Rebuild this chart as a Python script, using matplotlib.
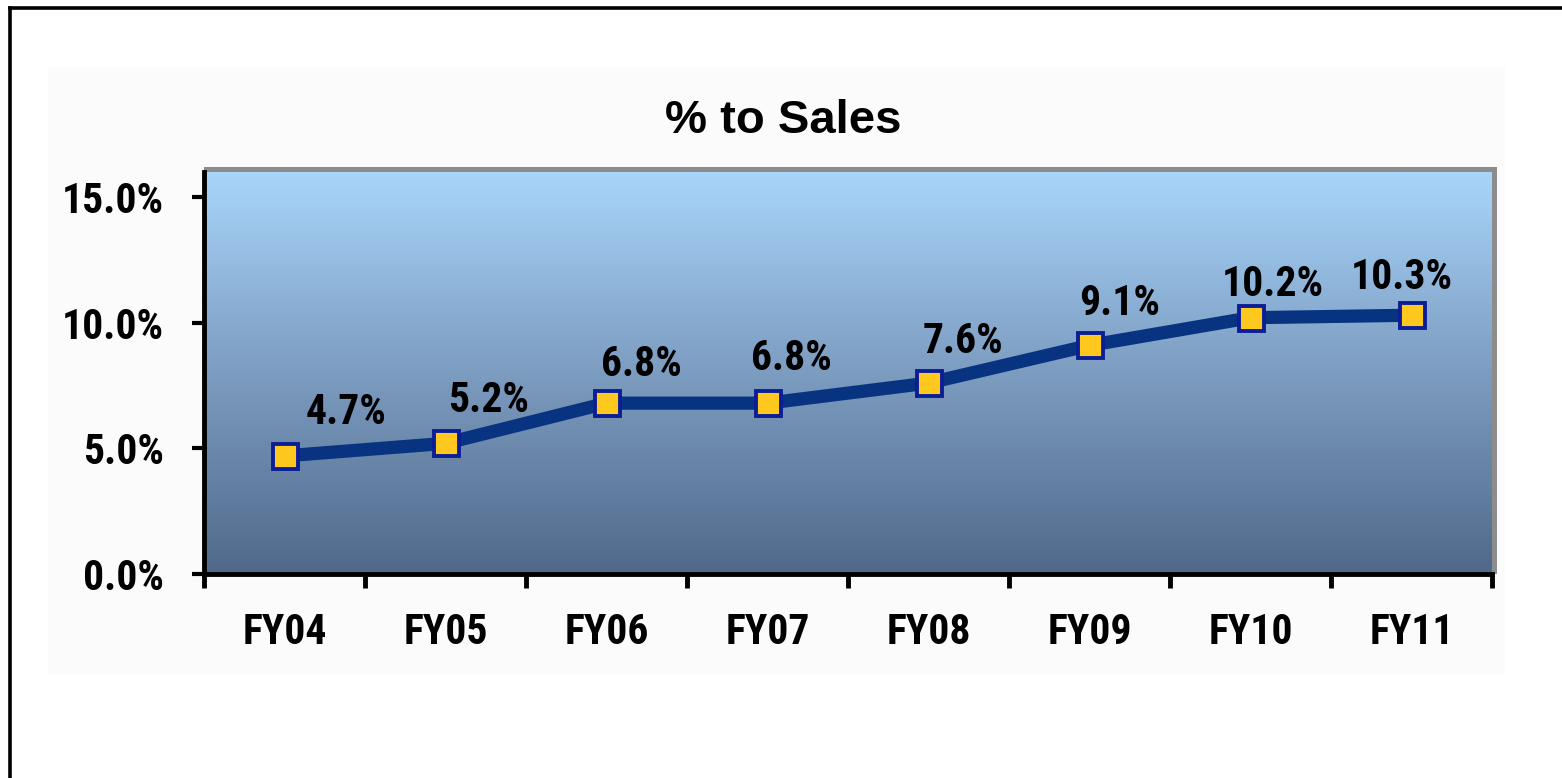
import numpy as np
import matplotlib.pyplot as plt
from matplotlib import font_manager as fm
from matplotlib.patches import Rectangle
from matplotlib.lines import Line2D
from matplotlib.colors import LinearSegmentedColormap

# ── Data ───────────────────────────────────────────────────────────────
YEARS = ["FY04", "FY05", "FY06", "FY07", "FY08", "FY09", "FY10", "FY11"]
PCT_TO_SALES = [4.7, 5.2, 6.8, 6.8, 7.6, 9.1, 10.2, 10.3]
Y_TICKS = [0, 5, 10, 15]

# label offsets (points) relative to each marker
LABEL_DX = [44, 31, 25, 17, 25, 22, 16, -7]
LABEL_DY = [31, 31, 28, 32, 30, 30, 24, 27]

# pick a narrow bold font if one is installed
_names = {f.name for f in fm.fontManager.ttflist}
_narrow = [n for n in ("Liberation Sans Narrow", "Arial Narrow", "Roboto Condensed",
                       "Open Sans Condensed", "DejaVu Sans Condensed") if n in _names]
if _narrow:
    COND, FS = _narrow[0], 30
else:
    COND, FS = "Liberation Sans", 26

W, H = 1562, 778

fig = plt.figure(figsize=(W / 100, H / 100), dpi=100)
fig.patch.set_facecolor("white")

# outer frame (top and left only visible)
fig.add_artist(Line2D([10 / W, 1.0], [1 - 8 / H, 1 - 8 / H], color="black", lw=2.6))
fig.add_artist(Line2D([10 / W, 10 / W], [0.0, 1 - 8 / H], color="black", lw=2.6))

# light chart area
fig.add_artist(Rectangle((48 / W, 1 - 675 / H), (1505 - 48) / W, (675 - 67) / H,
                         facecolor="#fbfbfb", edgecolor="none", zorder=0))

left, right, top, bottom = 204, 1492, 172, 574
# shadow on top / right of plot area
fig.add_artist(Rectangle((left / W, 1 - bottom / H), (right - left + 5) / W, (bottom - top + 5) / H,
                         facecolor="#8c8c8c", edgecolor="none", zorder=0.5))

ax = fig.add_axes([left / W, 1 - bottom / H, (right - left) / W, (bottom - top) / H])
ax.set_zorder(1)

grad = LinearSegmentedColormap.from_list("bg", ["#50698a", "#7c9cc0", "#a9d5fb"])
ax.imshow(np.linspace(0, 1, 256).reshape(-1, 1), cmap=grad, origin="lower",
          extent=[0, 1, 0, 1], transform=ax.transAxes, aspect="auto", zorder=0)

x = np.arange(len(YEARS))
ax.plot(x, PCT_TO_SALES, color="#073380", lw=9.5, solid_capstyle="round", zorder=2)
ax.plot(x, PCT_TO_SALES, ls="none", marker="s", ms=18, mfc="#ffc81e",
        mec="#0c1e96", mew=2.8, zorder=3)

for i, v in enumerate(PCT_TO_SALES):
    ax.annotate(f"{v:.1f}%", (x[i], v), xytext=(LABEL_DX[i], LABEL_DY[i]),
                textcoords="offset points", ha="center", va="center",
                fontsize=FS, fontweight="bold", family=COND, color="black", zorder=4)

ax.set_xlim(-0.5, len(YEARS) - 0.5)
ax.set_ylim(0, 16)

ax.set_yticks(Y_TICKS)
ax.set_yticklabels([f"{t:.1f}%" for t in Y_TICKS], fontsize=FS, fontweight="bold", family=COND)
ax.set_xticks(x)
ax.set_xticklabels(YEARS, fontsize=FS, fontweight="bold", family=COND)
ax.set_xticks(np.arange(len(YEARS) + 1) - 0.5, minor=True)

ax.tick_params(axis="y", length=9, width=3, pad=20, color="black")
ax.tick_params(axis="x", which="major", length=0, pad=27)
ax.tick_params(axis="x", which="minor", length=10, width=3.5, color="black")

for s in ("top", "right"):
    ax.spines[s].set_visible(False)
for s in ("left", "bottom"):
    ax.spines[s].set_linewidth(3.5)
    ax.spines[s].set_color("black")

fig.text(783 / W, 1 - 121 / H, "% to Sales", ha="center", va="center",
         fontsize=34, fontweight="bold", family="Liberation Sans")

fig.savefig("out.png", dpi=100)
